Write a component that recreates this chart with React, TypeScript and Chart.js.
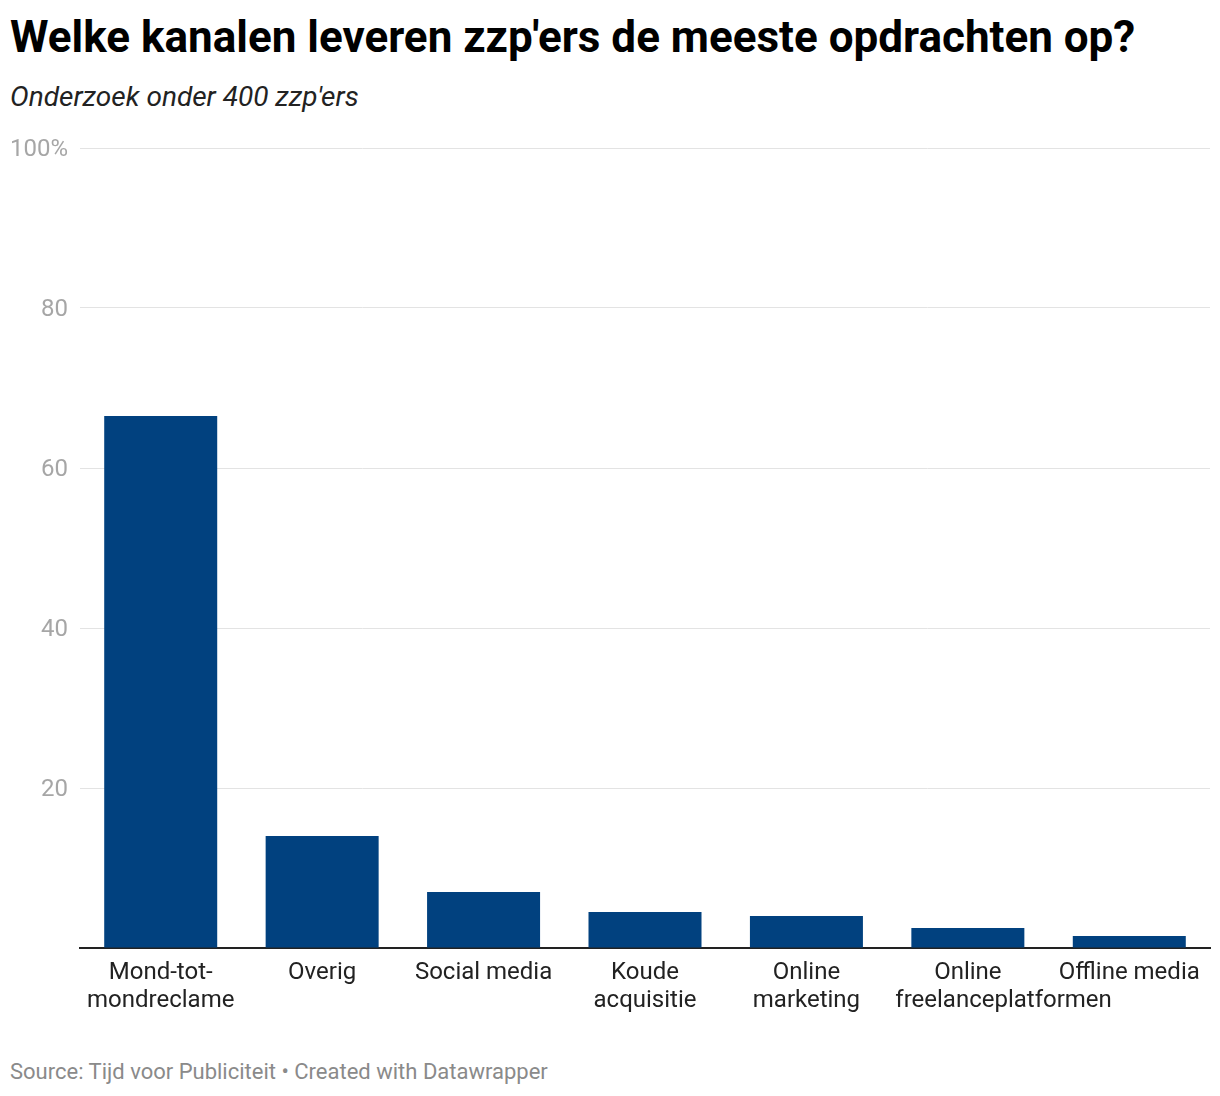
import React, { useEffect, useRef } from "react";
import { Chart, registerables } from "chart.js";

Chart.register(...registerables);

const categories: string[][] = [
  ["Mond-tot-", "mondreclame"],
  ["Overig"],
  ["Social media"],
  ["Koude", "acquisitie"],
  ["Online", "marketing"],
  ["Online", "            freelanceplatformen"],
  ["Offline media"],
];
const values: number[] = [66.5, 14, 7, 4.5, 4, 2.5, 1.5];
const yTicks: number[] = [0, 20, 40, 60, 80, 100];

const TITLE = "Welke kanalen leveren zzp'ers de meeste opdrachten op?";
const SUBTITLE = "Onderzoek onder 400 zzp'ers";
const SOURCE = "Source: Tijd voor Publiciteit • Created with Datawrapper";

export default function App() {
  const ref = useRef<HTMLCanvasElement | null>(null);
  useEffect(() => {
    if (!ref.current) return;
    const chart = new Chart(ref.current, {
      type: "bar",
      data: {
        labels: categories,
        datasets: [
          {
            data: values,
            backgroundColor: "#01417f",
            categoryPercentage: 0.7,
            barPercentage: 1,
          },
        ],
      },
      options: {
        animation: false,
        responsive: false,
        maintainAspectRatio: false,
        layout: { padding: { left: 10, right: 10, top: 28, bottom: 0 } },
        plugins: {
          legend: { display: false },
          tooltip: { enabled: false },
        },
        scales: {
          x: {
            grid: { display: false, drawTicks: false },
            border: { display: true, color: "#222", width: 2 },
            ticks: {
              color: "#222",
              font: { family: "Roboto", size: 24, lineHeight: 1.17 },
              maxRotation: 0,
              autoSkip: false,
              padding: 11,
            },
            afterFit: (s: any) => {
              s.height = 92;
            },
          },
          y: {
            min: 0,
            max: 100,
            afterBuildTicks: (s: any) => {
              s.ticks = yTicks.map((v) => ({ value: v }));
            },
            grid: {
              color: (ctx: any) => (ctx.tick && ctx.tick.value === 0 ? "rgba(0,0,0,0)" : "#e3e3e3"),
              lineWidth: 1,
              drawTicks: false,
            },
            border: { display: false },
            ticks: {
              color: "#a6a6a6",
              font: { family: "Roboto", size: 24 },
              crossAlign: "near",
              padding: 12,
              labelOffset: 2,
              callback: (v: any) => (v === 0 ? "" : v === 100 ? "100%" : String(v)),
            },
            afterFit: (s: any) => {
              s.width = 70;
            },
          },
        },
      },
    });
    return () => chart.destroy();
  }, []);

  return (
    <div style={{ position: "absolute", left: 0, top: 0, width: 1220, height: 1096, background: "#fff", fontFamily: "Roboto" }}>
      <div style={{ position: "absolute", left: 10, top: 11, fontSize: 44, fontWeight: 700, lineHeight: "52px", color: "#000", whiteSpace: "nowrap" }}>
        {TITLE}
      </div>
      <div style={{ position: "absolute", left: 10, top: 80, fontSize: 28, fontStyle: "italic", lineHeight: "34px", color: "#222", whiteSpace: "nowrap" }}>
        {SUBTITLE}
      </div>
      <canvas ref={ref} width={1220} height={920} style={{ position: "absolute", left: 0, top: 120, width: 1220, height: 920 }} />
      <div style={{ position: "absolute", left: 10, top: 1058, fontSize: 22, lineHeight: "28px", color: "#8a8a8a", whiteSpace: "nowrap" }}>
        {SOURCE}
      </div>
    </div>
  );
}
